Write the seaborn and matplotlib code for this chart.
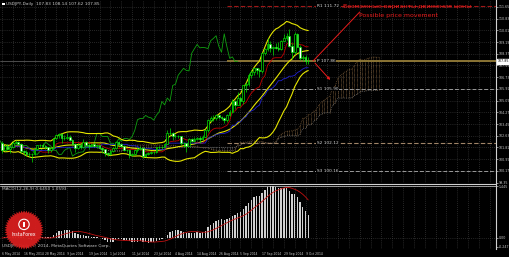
import numpy as np
import pandas as pd
import matplotlib
matplotlib.use("Agg")
import matplotlib.pyplot as plt
import seaborn as sns
from matplotlib.patches import Rectangle, Polygon, Circle
from matplotlib import font_manager

# ---------------- data ----------------
closes = [101.63, 101.88, 101.68, 101.85, 102.13, 102.18, 102.03, 101.55, 101.48, 101.33,
          101.32, 101.32, 101.67, 101.97, 101.98, 101.93, 101.86, 101.61, 101.78,
          102.45, 102.67, 102.75, 102.45, 102.50, 102.57, 102.35, 102.05, 101.77, 102.00,
          101.83, 102.16, 101.95, 101.93, 102.04, 101.93, 101.95, 101.79, 101.67, 101.39, 101.32,
          101.53, 101.75, 102.19, 102.04, 101.91, 101.62, 101.60, 101.31, 101.33, 101.60,
          101.72, 101.80, 101.20, 101.34, 101.43, 101.48, 101.50, 101.83, 101.82, 101.86,
          102.08, 102.80, 102.80,
          102.58, 102.58, 102.58, 102.10, 102.10, 101.93, 102.42, 102.25, 102.43, 102.44,
          102.37, 102.57, 103.01, 103.75, 103.84, 103.84, 104.05, 103.93, 103.88, 103.72, 104.07,
          104.30, 105.03, 104.79, 105.27, 105.06, 106.15, 106.23, 106.86, 107.11, 107.35,
          107.20, 107.17, 108.40, 108.72, 109.02, 108.78, 108.81, 108.79, 108.73, 109.28,
          109.44, 109.63,
          108.90, 108.47, 109.76, 108.85, 108.05, 108.15, 107.83, 107.85]
highs = [102.24, 102.00, 102.04, 101.96, 102.24, 102.36, 102.29, 102.10, 101.65, 101.60,
         101.49, 101.43, 101.79, 102.01, 102.06, 102.14, 102.00, 101.87, 101.82,
         102.50, 102.78, 102.80, 102.82, 102.65, 102.79, 102.70, 102.41, 102.10, 102.15,
         102.03, 102.37, 102.25, 102.14, 102.12, 102.13, 102.06, 102.00, 101.82, 101.70, 101.48,
         101.65, 101.82, 102.27, 102.24, 102.13, 101.95, 101.71, 101.63, 101.45, 101.67,
         101.83, 101.92, 101.85, 101.45, 101.50, 101.56, 101.55, 101.86, 101.92, 101.90,
         102.14, 103.02, 103.15,
         102.92, 102.75, 102.70, 102.63, 102.21, 102.11, 102.48, 102.49, 102.52, 102.52,
         102.64, 102.66, 103.07, 103.78, 103.99, 104.06, 104.18, 104.10, 104.02, 103.93, 104.14,
         104.40, 105.21, 105.10, 105.71, 105.43, 106.19, 106.40, 107.00, 107.22, 107.39,
         107.38, 107.40, 108.49, 108.80, 109.46, 109.24, 108.89, 109.10, 109.19, 109.35,
         109.74, 109.82,
         110.09, 109.11, 109.87, 109.82, 108.96, 108.30, 108.31, 108.14]
lows = [101.43, 101.56, 101.60, 101.43, 101.79, 102.02, 101.95, 101.45, 101.30, 101.24,
        101.12, 100.82, 101.30, 101.61, 101.85, 101.84, 101.73, 101.45, 101.46,
        101.73, 102.37, 102.46, 102.10, 102.30, 102.37, 102.23, 101.98, 101.50, 101.67,
        101.69, 101.79, 101.85, 101.73, 101.82, 101.85, 101.74, 101.70, 101.45, 101.23, 101.23,
        101.28, 101.46, 101.67, 101.97, 101.82, 101.55, 101.48, 101.07, 101.18, 101.29,
        101.52, 101.65, 101.08, 101.12, 101.26, 101.33, 101.37, 101.40, 101.72, 101.71,
        101.82, 102.03, 102.69,
        102.35, 102.45, 102.46, 101.96, 101.84, 101.51, 101.91, 102.20, 102.21, 102.34,
        102.14, 102.33, 102.53, 102.92, 103.61, 103.64, 103.75, 103.81, 103.74, 103.50, 103.62,
        104.01, 104.22, 104.52, 104.77, 104.69, 104.85, 105.67, 106.12, 106.66, 106.90,
        106.98, 106.72, 107.01, 108.29, 108.57, 108.51, 108.25, 108.67, 108.57, 108.60,
        109.23, 109.36,
        108.87, 108.02, 108.37, 108.83, 107.93, 107.86, 107.63, 107.62]
first_open = 102.13

date_labels = ["6 May 2014", "16 May 2014", "28 May 2014", "9 Jun 2014", "19 Jun 2014",
               "1 Jul 2014", "11 Jul 2014", "23 Jul 2014", "4 Aug 2014", "14 Aug 2014",
               "26 Aug 2014", "5 Sep 2014", "17 Sep 2014", "29 Sep 2014", "9 Oct 2014"]
price_ticks = [111.65, 110.83, 110.01, 109.19, 108.37, 107.55, 106.73, 105.91, 105.09,
               104.27, 103.45, 102.63, 101.81, 100.99, 100.17, 99.35]

pivot_names = ["R1", "P", "S1", "S2", "S3"]
pivot_values = [111.72, 107.86, 105.90, 102.12, 100.16]
pivot_start_bar = 83

title_text = "USDJPY,Daily  107.83 108.14 107.62 107.85"
note_ru = "Возможные варианты движения цены"
note_en = "Possible price movement"
copyright_text = "USDJPY,Daily  \u00a9 2014, MetaQuotes Software Corp."

# projected movement sketch (bar, price)
up_path_bars = [114.8, 132.0]
up_path_prices = [107.86, 111.29]
down_path_bars = [114.8, 121.8]
down_path_prices = [107.86, 106.39]

# ---------------- derived ----------------
df = pd.DataFrame({"close": closes, "high": highs, "low": lows})
df["open"] = [first_open] + closes[:-1]
n = len(df)
df["x"] = np.arange(n)

mid = df.close.rolling(20, min_periods=1).mean()
sd = df.close.rolling(20, min_periods=1).std(ddof=0)
df["bb_mid"], df["bb_up"], df["bb_lo"] = mid, mid + 2 * sd, mid - 2 * sd
df["tenkan"] = (df.high.rolling(9, min_periods=1).max() + df.low.rolling(9, min_periods=1).min()) / 2
df["kijun"] = (df.high.rolling(26, min_periods=1).max() + df.low.rolling(26, min_periods=1).min()) / 2
spanA = (df.tenkan + df.kijun) / 2
spanB = (df.high.rolling(52, min_periods=1).max() + df.low.rolling(52, min_periods=1).min()) / 2
kumo = pd.DataFrame({"x": df.x + 26, "A": spanA, "B": spanB})
chikou = pd.DataFrame({"x": df.x - 26, "y": df.close})

ema12 = df.close.ewm(span=12, adjust=False).mean()
ema26 = df.close.ewm(span=26, adjust=False).mean()
df["macd"] = ema12 - ema26
df["signal"] = df.macd.rolling(9, min_periods=1).mean()

# ---------------- figure ----------------
sns.set_style("dark", {"axes.facecolor": "black", "figure.facecolor": "black"})
names = {f.name for f in font_manager.fontManager.ttflist}
SMALL = "Liberation Sans Narrow" if "Liberation Sans Narrow" in names else "DejaVu Sans"
plt.rcParams["font.family"] = ["DejaVu Sans"]
W, H = 510, 257
fig = plt.figure(figsize=(W / 100, H / 100), dpi=100, facecolor="black")

PX_PER_BAR = 2.71
XL = (-2 / PX_PER_BAR, (496 - 2) / PX_PER_BAR)
ax = fig.add_axes([0, 1 - 183 / H, 496 / W, 183 / H], facecolor="black")
axm = fig.add_axes([0, 1 - 249 / H, 496 / W, 65 / H], facecolor="black")

grid_kw = dict(color="#4a4a4a", lw=0.5, ls=(0, (1, 2)))
TXT = "#c8c8c8"
FS = 3.1
YFS = 2.6

for a in (ax, axm):
    a.set_xlim(*XL)
    for s in ("left", "top", "bottom"):
        a.spines[s].set_visible(False)
    a.spines["right"].set_color("#d0d0d0")
    a.spines["right"].set_linewidth(0.8)
    a.yaxis.tick_right()
    a.tick_params(axis="y", colors=TXT, labelsize=YFS, length=1.2, width=0.5, pad=0.5)
    a.grid(False)
    for gx in np.arange(0, XL[1], 4):
        a.axvline(gx, **grid_kw, zorder=0)

ax.set_ylim(99.32, 112.13)
ax.set_yticks(price_ticks)
ax.set_yticklabels([f"{t:.2f}" for t in price_ticks], family=SMALL, fontstretch="condensed")
for t in price_ticks:
    ax.axhline(t, **grid_kw, zorder=0)
ax.set_xticks([])

# kumo (dotted hatch)
kv = kumo.dropna()
up = kv.A >= kv.B
ax.vlines(kv.x[up], kv.A[up], kv.B[up], colors="#a0784a", lw=0.45, ls=(0, (1, 1)), zorder=1)
ax.vlines(kv.x[~up], kv.A[~up], kv.B[~up], colors="#8c8c8c", lw=0.45, ls=(0, (1, 1)), zorder=1)
sns.lineplot(data=kv, x="x", y="A", ax=ax, color="#a0784a", lw=0.5, ls=":", zorder=1)
sns.lineplot(data=kv, x="x", y="B", ax=ax, color="#8c8c8c", lw=0.5, ls=":", zorder=1)

# pivot lines
piv_styles = {"R1": ("#a01818", (0, (4, 2)), 0.8), "P": ("#8a7434", "-", 1.4),
              "S1": ("#9a9a9a", (0, (4, 2)), 0.7), "S2": ("#a08468", (0, (4, 2)), 0.8),
              "S3": ("#9a9a9a", (0, (4, 2)), 0.7)}
for nm, v in zip(pivot_names, pivot_values):
    c, ls, lw = piv_styles[nm]
    ax.hlines(v, pivot_start_bar, XL[1], colors=c, linestyles=ls, lw=lw, zorder=2)
    ax.text(116.2, v, f"{nm} {v:.2f}", color="#d8d8d8", fontsize=FS, va="center", ha="left",
            family=SMALL, zorder=6, bbox=dict(facecolor="black", edgecolor="none", pad=0.3))
# bid line
ax.axhline(closes[-1], color="#6a6a6a", lw=0.5, zorder=1)

# indicator lines
sns.lineplot(data=chikou, x="x", y="y", ax=ax, color="#10a010", lw=0.6, zorder=3)
for col in ("bb_up", "bb_mid", "bb_lo"):
    sns.lineplot(data=df, x="x", y=col, ax=ax, color="#e6e600", lw=0.8, zorder=3)
sns.lineplot(data=df, x="x", y="tenkan", ax=ax, color="#c00000", lw=0.6, zorder=3)
sns.lineplot(data=df, x="x", y="kijun", ax=ax, color="#2020d0", lw=0.6, zorder=3)

# candles
ax.vlines(df.x, df.low, df.high, colors="#00e000", lw=0.5, zorder=4)
bull = df.close >= df.open
body_lo = np.minimum(df.open, df.close)
body_h = np.maximum(np.abs(df.close - df.open), 0.02)
ax.bar(df.x[bull], body_h[bull], bottom=body_lo[bull], width=0.62, color="black",
       edgecolor="#00e000", lw=0.5, zorder=5)
ax.bar(df.x[~bull], body_h[~bull], bottom=body_lo[~bull], width=0.62, color="white",
       edgecolor="#00e000", lw=0.5, zorder=5)
ax.set_xlabel("")
ax.set_ylabel("")

# current price tag
ax.annotate(f"{closes[-1]:.2f}", xy=(1.0, closes[-1]), xycoords=("axes fraction", "data"),
            xytext=(0.9, 0), textcoords="offset points", fontsize=YFS, color="black",
            family=SMALL, fontstretch="condensed", va="center", ha="left",
            annotation_clip=False,
            bbox=dict(facecolor="white", edgecolor="white", pad=0.3), zorder=10)

# projected movement
RED = "#e81c1c"
ax.plot(up_path_bars, up_path_prices, color=RED, lw=0.7, zorder=7)
ax.annotate("", xy=(down_path_bars[1], down_path_prices[1]),
            xytext=(down_path_bars[0], down_path_prices[0]),
            arrowprops=dict(arrowstyle="-|>", color=RED, lw=0.7, mutation_scale=4), zorder=7)
ax.text(125.8, 111.71, note_ru, color=RED, fontsize=4.5, va="center", ha="left", zorder=8)
ax.text(131.7, 111.05, note_en, color=RED, fontsize=4.5, va="center", ha="left", zorder=8)

# title
ax.text(0.012, 0.988, title_text, transform=ax.transAxes, color=TXT, fontsize=FS,
        family=SMALL, va="top", ha="left")
ax.add_patch(Rectangle((0.004, 0.972), 0.006, 0.011, transform=ax.transAxes,
                       color="white", lw=0))

# separator
fig.add_artist(plt.Line2D([0, 496 / W], [1 - 183.5 / H] * 2, color="#d0d0d0", lw=0.8))
fig.add_artist(plt.Line2D([0, 496 / W], [1 - 185.5 / H] * 2, color="#d0d0d0", lw=0.5))

# ---------------- MACD ----------------
mmax = df.macd.max()
mmin = min(df.macd.min(), 0)
axm.set_ylim(mmin - 0.18, mmax * 1.04)
axm.bar(df.x, df.macd, width=0.5, color="#d0d0d0", lw=0, zorder=3)
sns.lineplot(data=df, x="x", y="signal", ax=axm, color="#c01010", lw=0.6, zorder=4)
axm.axhline(0, **grid_kw, zorder=0)
axm.axhline(mmax, **grid_kw, zorder=0)
axm.set_yticks([mmax, 0, mmin - 0.12])
axm.set_yticklabels([f"{mmax:.3f}", "0.00", f"{mmin - 0.12:.3f}"], family=SMALL,
                    fontstretch="condensed")
axm.set_xticks(np.arange(0, n, 8)[:len(date_labels)])
axm.set_xticklabels(date_labels, fontsize=2.4, color=TXT, ha="left", family=SMALL,
                    fontstretch="condensed")
axm.tick_params(axis="x", length=1.2, width=0.5, colors=TXT, pad=0.8)
axm.set_xlabel("")
axm.set_ylabel("")
axm.text(0.004, 0.96, f"MACD(12,26,9) {df.macd.iloc[-1]:.4f} {df.signal.iloc[-1]:.4f}",
         transform=axm.transAxes, color=TXT, fontsize=FS, family=SMALL, va="top", ha="left")
axm.text(0.004, 0.02, copyright_text, transform=axm.transAxes, color=TXT,
         fontsize=FS, family=SMALL, va="bottom", ha="left", zorder=1)

# ---------------- logo ----------------
lg = fig.add_axes([4 / W, 1 - 250 / H, 40 / W, 40 / H])
lg.set_xlim(-1, 1); lg.set_ylim(-1, 1); lg.set_aspect("equal"); lg.axis("off")
lg.patch.set_alpha(0)
ang = np.linspace(0, 2 * np.pi, 97)
rad = np.where(np.arange(97) % 2 == 0, 0.98, 0.86)
lg.add_patch(Polygon(np.c_[rad * np.cos(ang), rad * np.sin(ang)], closed=True,
                     color="#d81e1e", lw=0, alpha=0.95))
lg.add_patch(Circle((0, 0.28), 0.26, facecolor="none", edgecolor="white", lw=0.8))
lg.add_patch(Rectangle((-0.06, 0.14), 0.12, 0.26, color="white", lw=0))
lg.text(0, -0.22, "InstaForex", color="white", fontsize=3.4, ha="center", va="center")

fig.savefig("out.png", dpi=100, facecolor="black")
